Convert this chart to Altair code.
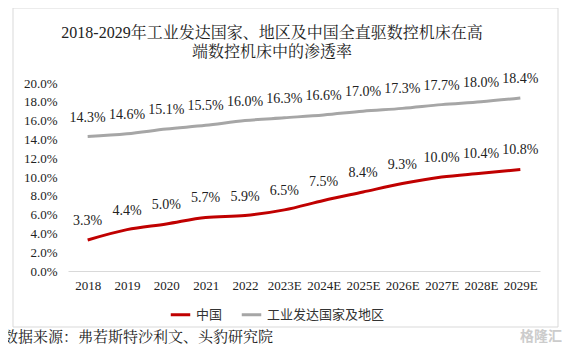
import altair as alt
import pandas as pd

years = ["2018", "2019", "2020", "2021", "2022", "2023E", "2024E", "2025E",
         "2026E", "2027E", "2028E", "2029E"]
china = [3.3, 4.4, 5.0, 5.7, 5.9, 6.5, 7.5, 8.4, 9.3, 10.0, 10.4, 10.8]
developed = [14.3, 14.6, 15.1, 15.5, 16.0, 16.3, 16.6, 17.0, 17.3, 17.7, 18.0, 18.4]
series_names = ["中国", "工业发达国家及地区"]
series_colors = ["#c00000", "#a6a6a6"]
title_lines = ["2018-2029年工业发达国家、地区及中国全直驱数控机床在高", "端数控机床中的渗透率"]
source_text = "数据来源：弗若斯特沙利文、头豹研究院"
watermark_text = "格隆汇"

rows = []
for name, vals in zip(series_names, [china, developed]):
    for y, v in zip(years, vals):
        rows.append({"year": y, "series": name, "value": v / 100})
df = pd.DataFrame(rows)

SERIF = "Liberation Serif, Times New Roman, Noto Serif CJK SC, Noto Sans CJK SC"
SANS = "Noto Sans CJK SC, Microsoft YaHei, sans-serif"

x_enc = alt.X("year:O", sort=years, scale=alt.Scale(paddingOuter=0.5),
              axis=alt.Axis(title=None, labelAngle=0, ticks=False, domainColor="#d9d9d9",
                            labelFont=SERIF, labelFontSize=13, labelColor="#222",
                            labelPadding=8, labelOverlap=False))
y_enc = alt.Y("value:Q", scale=alt.Scale(domain=[0, 0.2]),
              axis=alt.Axis(title=None, format=".1%", values=[i / 100 for i in range(0, 21, 2)],
                            grid=False, domain=False, ticks=False, labelFont=SERIF,
                            labelFontSize=13, labelColor="#222", labelPadding=11,
                            labelOverlap=False))
color_enc = alt.Color("series:N", sort=series_names,
                      scale=alt.Scale(domain=series_names, range=series_colors),
                      legend=alt.Legend(title=None, orient="none", legendX=101, legendY=220,
                                        direction="horizontal", symbolType="stroke",
                                        symbolStrokeWidth=3, symbolSize=380,
                                        labelFont=SANS, labelFontSize=13, labelColor="#333",
                                        columnPadding=12, labelOffset=4))

base = alt.Chart(df)
lines = base.mark_line(strokeWidth=3, interpolate="monotone").encode(x=x_enc, y=y_enc, color=color_enc)
labels = base.mark_text(dy=-19, font=SERIF, fontSize=14, color="#222").encode(
    x=x_enc, y=y_enc, text=alt.Text("value:Q", format=".1%"))

one = pd.DataFrame({"a": [0]})
frame = alt.Chart(one).mark_rect(fill=None, stroke="#d9d9d9", strokeWidth=1).encode(
    x=alt.value(-55), x2=alt.value(490), y=alt.value(-75), y2=alt.value(244))

title1 = alt.Chart(pd.DataFrame({"t": [title_lines[0]]})).mark_text(
    align="center", baseline="middle", font=SERIF, fontSize=16, color="#222").encode(
    x=alt.value(204), y=alt.value(-50), text="t:N")
title2 = alt.Chart(pd.DataFrame({"t": [title_lines[1]]})).mark_text(
    align="center", baseline="middle", font=SERIF, fontSize=16, color="#222").encode(
    x=alt.value(204), y=alt.value(-31), text="t:N")

src = alt.Chart(pd.DataFrame({"t": [source_text]})).mark_text(
    align="left", baseline="alphabetic", font=SERIF, fontSize=15, color="#222").encode(
    x=alt.value(-65), y=alt.value(259), text="t:N")
wm = alt.Chart(pd.DataFrame({"t": [watermark_text]})).mark_text(
    align="left", baseline="alphabetic", font=SANS, fontSize=14, color="#cccccc", fontWeight="bold").encode(
    x=alt.value(452), y=alt.value(258), text="t:N")

chart = alt.layer(frame, lines, labels, title1, title2, src, wm).properties(
    width=472, height=188,
    autosize=alt.AutoSizeParams(type="none"),
    padding={"left": 60, "top": 75, "right": 22, "bottom": 78},
).configure_view(stroke=None)

chart.save("out.html", embed_options={"renderer": "svg", "actions": False})
